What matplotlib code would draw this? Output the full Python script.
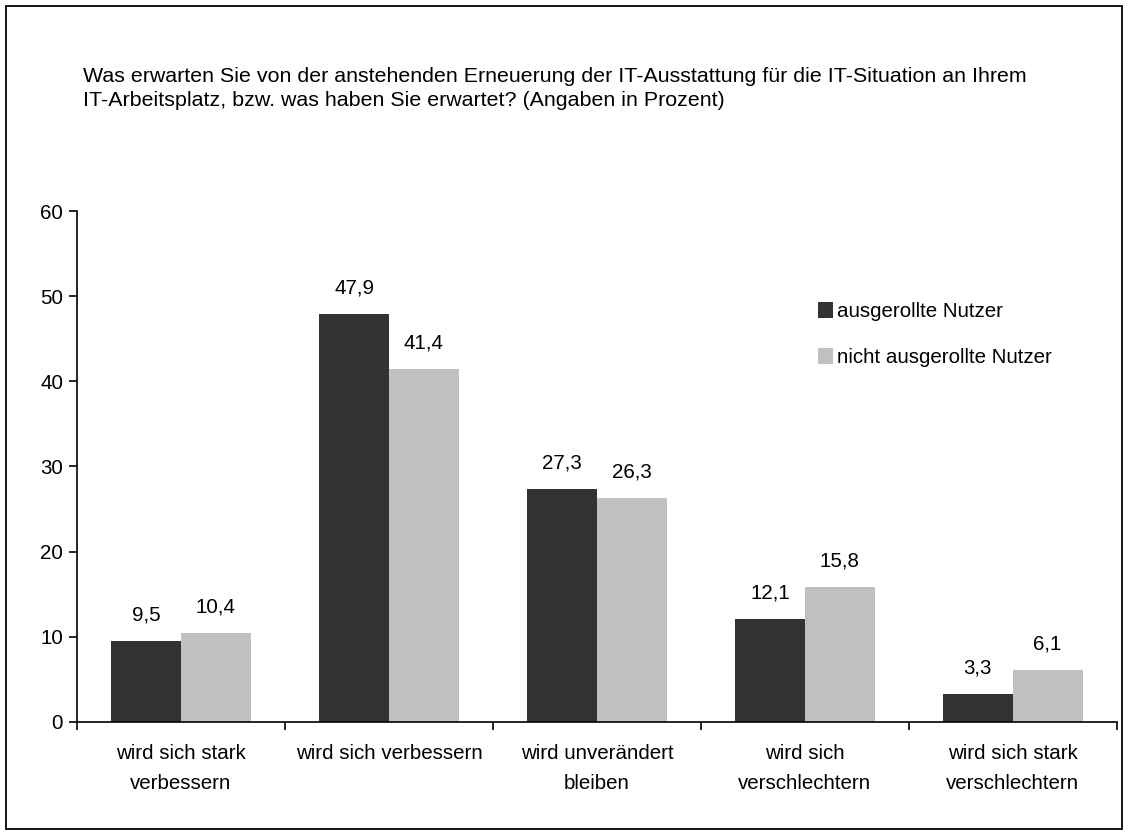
import matplotlib.pyplot as plt
import matplotlib.patches as mpatches
import numpy as np

plt.rcParams['font.family'] = ['Liberation Sans', 'DejaVu Sans']

# data
categories = ['wird sich stark\nverbessern', 'wird sich verbessern', 'wird unverändert\nbleiben',
              'wird sich\nverschlechtern', 'wird sich stark\nverschlechtern']
ausgerollt = [9.5, 47.9, 27.3, 12.1, 3.3]
nicht_ausgerollt = [10.4, 41.4, 26.3, 15.8, 6.1]
series_names = ['ausgerollte Nutzer', 'nicht ausgerollte Nutzer']
title = ('Was erwarten Sie von der anstehenden Erneuerung der IT-Ausstattung für die IT-Situation an Ihrem\n'
         'IT-Arbeitsplatz, bzw. was haben Sie erwartet? (Angaben in Prozent)')

dark = '#333333'
light = '#c0c0c0'
fs = 14.8

fig = plt.figure(figsize=(11.28, 8.36), dpi=100)
ax = fig.add_axes([0.0683, 0.1364, 0.9217, 0.6112])

# border round the whole picture
fig.patches.append(mpatches.Rectangle((0.005, 0.008), 0.99, 0.985, transform=fig.transFigure,
                                      fill=False, edgecolor='black', linewidth=1.3))

x = np.arange(len(categories))
w = 0.336
b1 = ax.bar(x - w / 2, ausgerollt, w, color=dark, label=series_names[0])
b2 = ax.bar(x + w / 2, nicht_ausgerollt, w, color=light, label=series_names[1])

for bars in (b1, b2):
    for rect in bars:
        val = rect.get_height()
        ax.annotate(f'{val:.1f}'.replace('.', ','), (rect.get_x() + rect.get_width() / 2, val),
                    xytext=(0, 15), textcoords='offset points', ha='center', va='baseline',
                    fontsize=fs)

ax.set_xlim(-0.5, len(categories) - 0.5)
ax.set_ylim(0, 60)
ax.set_yticks(range(0, 61, 10))
ax.tick_params(axis='y', labelsize=fs, direction='out', length=6, width=1.2, pad=4)

# ticks at category boundaries, labels centred under the groups
ax.set_xticks(np.arange(-0.5, len(categories), 1))
ax.set_xticklabels([])
ax.tick_params(axis='x', direction='out', length=6, width=1.2)
for i, c in enumerate(categories):
    ax.text(i, -2.6, c, ha='center', va='top', fontsize=fs, linespacing=1.72)

for s in ['top', 'right']:
    ax.spines[s].set_visible(False)
for s in ['left', 'bottom']:
    ax.spines[s].set_linewidth(1.2)

ax.legend(loc='upper left', bbox_to_anchor=(818 / 1128, 1 - 302 / 836), bbox_transform=fig.transFigure,
          frameon=False, fontsize=fs, borderpad=0, borderaxespad=0,
          handlelength=0.72, handleheight=0.82, handletextpad=0.2, labelspacing=1.3)

fig.text(83 / 1128, 1 - 67 / 836, title, ha='left', va='top', fontsize=15.4, linespacing=1.36)

fig.savefig('out.png', dpi=100)
